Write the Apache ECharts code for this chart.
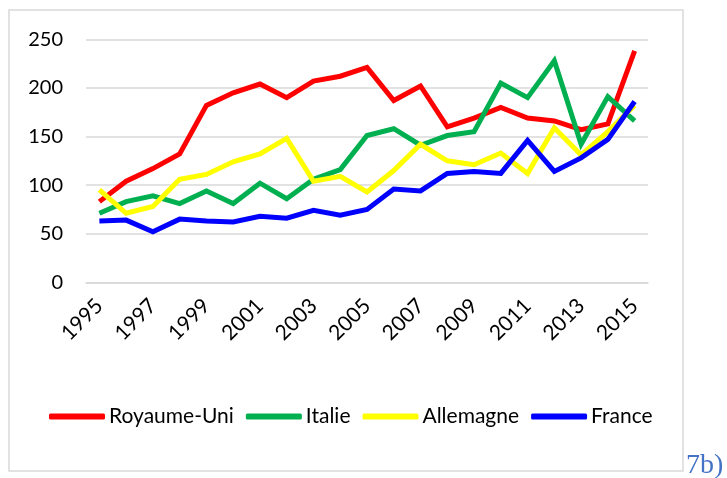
<!DOCTYPE html>
<html>
<head>
<meta charset="utf-8">
<script src="https://cdn.jsdelivr.net/npm/echarts@6/dist/echarts.min.js"></script>
<style>
  html, body { margin: 0; padding: 0; background: #fff; }
  #chart { width: 727px; height: 478px; }
</style>
</head>
<body>
<div id="chart"></div>
<script>
const years = ['1995','1996','1997','1998','1999','2000','2001','2002','2003','2004','2005',
  '2006','2007','2008','2009','2010','2011','2012','2013','2014','2015'];
const royaumeUni = [83, 104, 117, 132, 182, 195, 204, 190, 207, 212, 221, 187, 202, 160, 169, 180, 169, 166, 157, 163, 238];
const italie = [71, 83, 89, 81, 94, 81, 102, 86, 106, 116, 151, 158, 141, 151, 155, 205, 190, 228, 142, 191, 166];
const allemagne = [95, 71, 78, 106, 111, 124, 132, 148, 104, 109, 93, 115, 142, 125, 121, 133, 112, 159, 131, 155, 182];
const france = [63, 64, 52, 65, 63, 62, 68, 66, 74, 69, 75, 96, 94, 112, 114, 112, 146, 114, 128, 147, 186];
const yTicks = [0, 50, 100, 150, 200, 250];

const font = 'Lato, "Open Sans", sans-serif';

function line(name, data, color) {
  return {
    name: name,
    type: 'line',
    data: data,
    symbol: 'none',
    lineStyle: { color: color, width: 5, join: 'miter' },
    itemStyle: { color: color }
  };
}

const chart = echarts.init(document.getElementById('chart'));
chart.setOption({
  animation: false,
  grid: { left: 86, right: 79, top: 39.3, bottom: 195.7 },
  xAxis: {
    type: 'category',
    data: years,
    boundaryGap: true,
    axisLine: { lineStyle: { color: '#d9d9d9', width: 1.5 } },
    axisTick: { show: false },
    axisLabel: {
      interval: 1,
      rotate: 45,
      margin: 20,
      color: '#000',
      fontSize: 21,
      fontFamily: font
    }
  },
  yAxis: {
    type: 'value',
    min: yTicks[0],
    max: yTicks[yTicks.length - 1],
    interval: 50,
    axisLine: { show: false },
    axisTick: { show: false },
    axisLabel: { color: '#000', fontSize: 20, fontFamily: font, margin: 23 },
    splitLine: { lineStyle: { color: '#d9d9d9', width: 1.5 } }
  },
  legend: {
    left: 44,
    top: 401,
    itemWidth: 56,
    itemHeight: 6,
    itemGap: 12,
    icon: 'roundRect',
    textStyle: { color: '#000', fontSize: 21, fontFamily: font, padding: [0, 0, 0, -1] },
    data: ['Royaume-Uni', 'Italie', 'Allemagne', 'France']
  },
  graphic: [
    {
      type: 'rect',
      shape: { x: 9, y: 10, width: 674, height: 461 },
      style: { fill: 'none', stroke: '#d9d9d9', lineWidth: 1.5 },
      z: -1
    },
    {
      type: 'text',
      left: 686,
      top: 452,
      style: { text: '7b)', fill: '#4472c4', font: '28px "Liberation Serif", serif' }
    }
  ],
  series: [
    line('Royaume-Uni', royaumeUni, '#ff0000'),
    line('Italie', italie, '#00b050'),
    line('Allemagne', allemagne, '#ffff00'),
    line('France', france, '#0000ff')
  ]
});
</script>
</body>
</html>
